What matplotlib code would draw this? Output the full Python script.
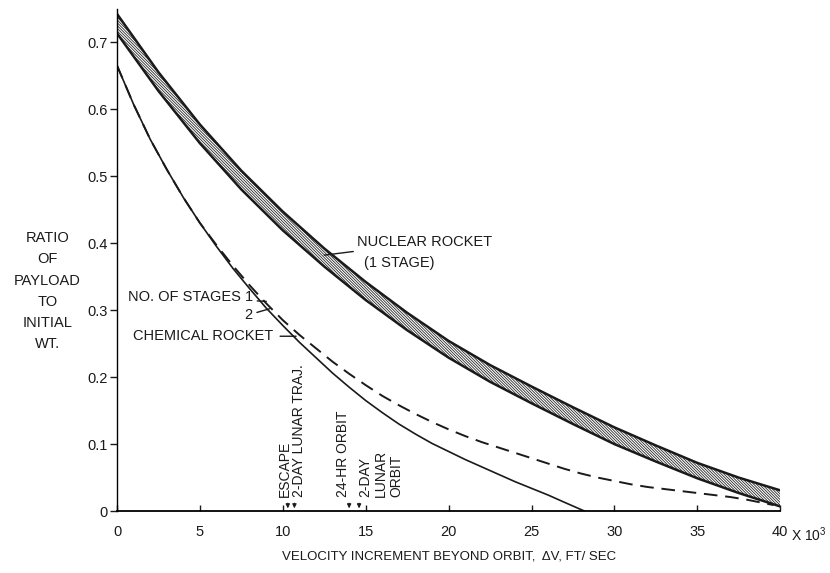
import numpy as np
import matplotlib
matplotlib.use("Agg")
from matplotlib import pyplot as plt

# chemical rocket, 2 stages (solid)
chem2_x = [0, 1, 2, 3, 4, 5, 6, 7, 8, 9, 10, 11, 12, 13, 14, 15, 16, 17, 18, 19, 20,
           21, 22, 23, 24, 25, 26, 27, 28.2]
chem2_y = [0.665, 0.607, 0.555, 0.51, 0.468, 0.43, 0.395, 0.362, 0.332, 0.303, 0.277,
           0.252, 0.229, 0.206, 0.185, 0.165, 0.147, 0.13, 0.115, 0.101, 0.089,
           0.077, 0.066, 0.055, 0.044, 0.034, 0.024, 0.013, 0.0]

# chemical rocket, 1 stage (dashed)
chem1_x = [0, 1, 2, 3, 4, 5, 6, 7, 8, 9, 10, 11, 12, 13, 14, 15, 16, 17, 18, 19, 20,
           21, 22, 23, 24, 25, 26, 27, 28, 29, 30, 31, 32, 33, 34, 35, 36, 37, 38, 39, 39.6]
chem1_y = [0.665, 0.607, 0.555, 0.51, 0.468, 0.43, 0.397, 0.366, 0.337, 0.31, 0.285,
           0.263, 0.243, 0.223, 0.205, 0.188, 0.172, 0.158, 0.145, 0.133, 0.122,
           0.112, 0.103, 0.095, 0.087, 0.079, 0.071, 0.063, 0.056, 0.05, 0.045,
           0.04, 0.036, 0.033, 0.03, 0.027, 0.024, 0.021, 0.017, 0.012, 0.009]

# nuclear rocket band (1 stage)
nuc_x = [0, 2.5, 5, 7.5, 10, 12.5, 15, 17.5, 20, 22.5, 25, 27.5, 30, 32.5, 35, 37.5, 40]
nuc_hi = [0.742, 0.655, 0.577, 0.508, 0.447, 0.392, 0.342, 0.296, 0.254, 0.218, 0.186,
          0.155, 0.125, 0.098, 0.072, 0.05, 0.031]
nuc_lo = [0.713, 0.627, 0.549, 0.48, 0.419, 0.365, 0.315, 0.27, 0.229, 0.193, 0.161,
          0.13, 0.1, 0.074, 0.049, 0.027, 0.007]

xticks = [0, 5, 10, 15, 20, 25, 30, 35, 40]
yticks = [0, 0.1, 0.2, 0.3, 0.4, 0.5, 0.6, 0.7]
ytick_labels = ["0", "0.1", "0.2", "0.3", "0.4", "0.5", "0.6", "0.7"]

plt.rcParams["font.family"] = ["Liberation Sans", "DejaVu Sans"]
plt.rcParams["hatch.linewidth"] = 0.6
plt.rcParams["mathtext.fontset"] = "custom"
plt.rcParams["mathtext.rm"] = "Liberation Sans"
fs = 10.5
ink = "#1a1a1a"

fig = plt.figure(figsize=(8.3, 5.73), dpi=100)
ax = fig.add_axes([0.141, 0.108, 0.799, 0.877])

# nuclear band, densely hatched
ax.fill_between(nuc_x, nuc_lo, nuc_hi, facecolor="white", edgecolor="#2a2a2a",
                hatch="\\" * 12, linewidth=0)
ax.plot(nuc_x, nuc_hi, color=ink, lw=1.8)
ax.plot(nuc_x, nuc_lo, color=ink, lw=1.8)

ax.plot(chem2_x, chem2_y, color=ink, lw=1.2)
ax.plot(chem1_x, chem1_y, color=ink, lw=1.4, dashes=(7, 4))

ax.set_xlim(0, 40)
ax.set_ylim(0, 0.75)
ax.spines["top"].set_visible(False)
ax.spines["right"].set_visible(False)
ax.spines["left"].set_linewidth(1.0)
ax.spines["bottom"].set_linewidth(1.3)
ax.set_xticks(xticks)
ax.set_yticks(yticks)
ax.set_yticklabels(ytick_labels)
ax.tick_params(axis="y", direction="out", length=5, width=1, pad=2, labelsize=fs, colors=ink)
ax.tick_params(axis="x", direction="in", length=4, width=1, pad=10, labelsize=fs, colors=ink)
ax.annotate("X 10$^3$", xy=(40, 0), xycoords=("data", "axes fraction"), xytext=(8, -17),
            textcoords="offset points", ha="left", va="center", fontsize=fs - 0.5, color=ink)

ax.set_xlabel("VELOCITY INCREMENT BEYOND ORBIT,  ΔV, FT/ SEC", fontsize=fs - 1, color=ink, labelpad=8)
fig.text(0.057, 0.492, "RATIO\nOF\nPAYLOAD\nTO\nINITIAL\nWT.", ha="center", va="center",
         fontsize=fs, linespacing=1.65, color=ink)

# curve labels
ax.annotate("NUCLEAR ROCKET", xy=(12.5, 0.382), xytext=(14.5, 0.401), fontsize=fs, color=ink,
            va="center", arrowprops=dict(arrowstyle="-", color=ink, lw=1, shrinkA=1, shrinkB=0))
ax.text(14.9, 0.37, "(1 STAGE)", fontsize=fs, color=ink, va="center")
ax.annotate("NO. OF STAGES 1", xy=(9.0, 0.313), xytext=(0.66, 0.319), fontsize=fs, color=ink,
            va="center", arrowprops=dict(arrowstyle="-", color=ink, lw=1, shrinkA=1, shrinkB=0))
ax.annotate("2", xy=(9.2, 0.302), xytext=(7.7, 0.293), fontsize=fs, color=ink,
            va="center", arrowprops=dict(arrowstyle="-", color=ink, lw=1, shrinkA=1, shrinkB=0))
ax.annotate("CHEMICAL ROCKET", xy=(10.8, 0.261), xytext=(0.96, 0.261), fontsize=fs, color=ink,
            va="center", arrowprops=dict(arrowstyle="-", color=ink, lw=1, shrinkA=3, shrinkB=0))

# mission markers on the velocity axis
markers = [(10.1, 10.3, "ESCAPE"), (11.0, 10.7, "2-DAY LUNAR TRAJ."), (13.6, 14.0, "24-HR ORBIT"),
           (15.9, 14.6, "2-DAY\nLUNAR\nORBIT")]
for tx, vx, label in markers:
    ax.text(tx, 0.021, label, rotation=90, ha="center", va="bottom", fontsize=fs - 0.5,
            color=ink, linespacing=1.15, multialignment="left")
    ax.annotate("", xy=(vx, 0.0), xytext=(vx, 0.016),
                arrowprops=dict(arrowstyle="-|>", color=ink, lw=0.8, mutation_scale=6))

fig.savefig("out.png", dpi=100, facecolor="white")
